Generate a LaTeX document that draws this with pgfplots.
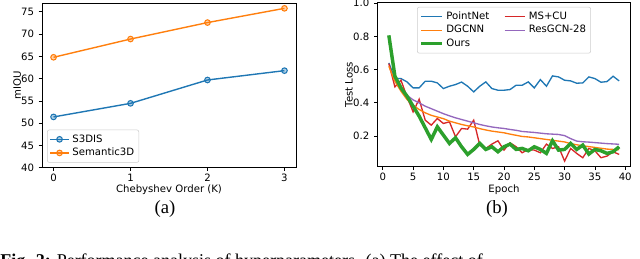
\documentclass[border=0pt]{standalone}
\usepackage{pgfplots}
\pgfplotsset{compat=1.18}
\usepackage{fontspec}
\setmainfont{DejaVu Sans}
\newfontfamily\capfont{Liberation Serif}
\definecolor{c0}{HTML}{1F77B4}
\definecolor{c1}{HTML}{FF7F0E}
\definecolor{c2}{HTML}{2CA02C}
\definecolor{c3}{HTML}{D62728}
\definecolor{c4}{HTML}{9467BD}
\newcommand{\fs}{\fontsize{7.6}{9}\selectfont}
\pgfplotsset{
  mpl/.style={
    scale only axis,
    axis line style={line width=0.6pt},
    tick align=outside,
    major tick length=2.5pt,
    xtick pos=left, ytick pos=left,
    tick style={black, line width=0.6pt},
    font=\fs,
    ticklabel style={font=\fs},
    xticklabel style={yshift=1.2pt},
    label style={font=\fs},
    /pgf/number format/assume math mode=true,
    legend style={font=\fs, draw=black!20, rounded corners=1.5pt, fill=white, fill opacity=0.8, text opacity=1, inner sep=1.5pt, row sep=-1pt},
    legend cell align=left,
  }
}
\begin{document}
\begin{tikzpicture}
\useasboundingbox (0,0) rectangle (480pt,194.25pt);
% (a)
\begin{axis}[mpl,
  at={(31.5pt,68.5pt)}, anchor=south west,
  width=190.5pt, height=123.5pt,
  xmin=-0.15, xmax=3.15, ymin=40, ymax=77,
  xtick={0,1,2,3}, ytick={40,45,...,75},
  xlabel={Chebyshev Order (K)}, ylabel={mIOU},
  xlabel style={at={(axis description cs:0.5,-0.135)}, anchor=center},
  ylabel style={at={(axis description cs:-0.098,0.5)}, anchor=center},
  legend style={at={(0.02,0.03)}, anchor=south west},
  legend image code/.code={\draw[mark repeat=2,mark phase=2] plot coordinates {(0cm,0cm) (0.25cm,0cm) (0.5cm,0cm)};},
]
\addplot[c0, line width=1.05pt, mark=*, mark size=2.1pt, mark options={fill=c0, fill opacity=0.35, line width=0.8pt}] coordinates {(0,51.4) (1,54.45) (2,59.7) (3,61.8)};
\addlegendentry{S3DIS}
\addplot[c1, line width=1.05pt, mark=*, mark size=2.1pt, mark options={fill=c1, fill opacity=0.35, line width=0.8pt}] coordinates {(0,64.8) (1,68.9) (2,72.6) (3,75.8)};
\addlegendentry{Semantic3D}
\end{axis}
% (b)
\begin{axis}[mpl,
  at={(283pt,69.2pt)}, anchor=south west,
  width=190pt, height=123pt,
  xmin=-0.9, xmax=40.9, ymin=0.016, ymax=1.002,
  xtick={0,5,...,40}, ytick={0.2,0.4,0.6,0.8,1.0},
  yticklabel style={/pgf/number format/.cd, fixed, fixed zerofill, precision=1},
  xlabel={Epoch}, ylabel={Test Loss},
  xlabel style={at={(axis description cs:0.5,-0.14)}, anchor=center},
  ylabel style={at={(axis description cs:-0.112,0.5)}, anchor=center},
  legend columns=2,
  legend style={at={(0.5,0.975)}, anchor=north, /tikz/every even column/.append style={column sep=9pt}},
  legend image code/.code={\draw (0cm,0cm) -- (0.55cm,0cm);},
]
\addplot[c0, line width=1pt] coordinates {
(1,0.64) (2,0.546) (3,0.546) (4,0.526) (5,0.49) (6,0.49) (7,0.53) (8,0.53) (9,0.52) (10,0.486)
(11,0.50) (12,0.51) (13,0.525) (14,0.50) (15,0.466) (16,0.50) (17,0.526) (18,0.486) (19,0.476) (20,0.476)
(21,0.48) (22,0.506) (23,0.506) (24,0.526) (25,0.49) (26,0.54) (27,0.50) (28,0.562) (29,0.556) (30,0.536)
(31,0.532) (32,0.518) (33,0.52) (34,0.556) (35,0.546) (36,0.524) (37,0.528) (38,0.56) (39,0.532)};
\addlegendentry{PointNet}
\addplot[c3, line width=1pt] coordinates {
(1,0.636) (2,0.496) (3,0.536) (4,0.436) (5,0.346) (6,0.422) (7,0.296) (8,0.266) (9,0.306) (10,0.276)
(11,0.286) (12,0.196) (13,0.246) (14,0.242) (15,0.296) (16,0.146) (17,0.126) (18,0.152) (19,0.172) (20,0.116)
(21,0.16) (22,0.136) (23,0.10) (24,0.12) (25,0.116) (26,0.10) (27,0.152) (28,0.126) (29,0.136) (30,0.05)
(31,0.126) (32,0.096) (33,0.07) (34,0.126) (35,0.112) (36,0.07) (37,0.08) (38,0.106) (39,0.09)};
\addlegendentry{MS+CU}
\addplot[c1, line width=1pt] coordinates {
(1,0.62) (2,0.53) (3,0.47) (4,0.42) (5,0.385) (6,0.36) (7,0.34) (8,0.325) (9,0.315) (10,0.305)
(11,0.29) (12,0.28) (13,0.27) (14,0.262) (15,0.255) (16,0.245) (17,0.237) (18,0.23) (19,0.225) (20,0.22)
(21,0.212) (22,0.205) (23,0.198) (24,0.195) (25,0.19) (26,0.185) (27,0.18) (28,0.175) (29,0.17) (30,0.165)
(31,0.155) (32,0.148) (33,0.142) (34,0.137) (35,0.132) (36,0.127) (37,0.122) (38,0.12) (39,0.118)};
\addlegendentry{DGCNN}
\addplot[c4, line width=1pt] coordinates {
(1,0.78) (2,0.56) (3,0.49) (4,0.445) (5,0.418) (6,0.40) (7,0.38) (8,0.365) (9,0.35) (10,0.335)
(11,0.322) (12,0.31) (13,0.30) (14,0.29) (15,0.28) (16,0.27) (17,0.262) (18,0.255) (19,0.25) (20,0.246)
(21,0.24) (22,0.235) (23,0.228) (24,0.225) (25,0.222) (26,0.218) (27,0.214) (28,0.212) (29,0.21) (30,0.203)
(31,0.185) (32,0.17) (33,0.166) (34,0.164) (35,0.161) (36,0.158) (37,0.155) (38,0.153) (39,0.151)};
\addlegendentry{ResGCN-28}
\addplot[c2, line width=2.6pt] coordinates {
(1,0.806) (2,0.56) (3,0.49) (4,0.44) (5,0.38) (6,0.32) (7,0.25) (8,0.18) (9,0.256) (10,0.206)
(11,0.156) (12,0.19) (13,0.136) (14,0.09) (15,0.12) (16,0.156) (17,0.12) (18,0.136) (19,0.106) (20,0.136)
(21,0.152) (22,0.12) (23,0.126) (24,0.112) (25,0.136) (26,0.12) (27,0.096) (28,0.172) (29,0.116) (30,0.12)
(31,0.156) (32,0.12) (33,0.146) (34,0.092) (35,0.12) (36,0.112) (37,0.096) (38,0.106) (39,0.136)};
\addlegendentry{Ours}
\end{axis}
\node[font=\capfont\fontsize{14}{16}\selectfont] at (123.75pt,37.5pt) {(a)};
\node[font=\capfont\fontsize{14}{16}\selectfont] at (372.75pt,37.5pt) {(b)};
\node[anchor=base west, inner sep=0pt, font=\capfont\fontsize{13.5}{16}\selectfont] at (0pt,-5.5pt) {\textbf{Fig. 2:} Performance analysis of hyperparameters. (a) The effect of};
\end{tikzpicture}
\end{document}
